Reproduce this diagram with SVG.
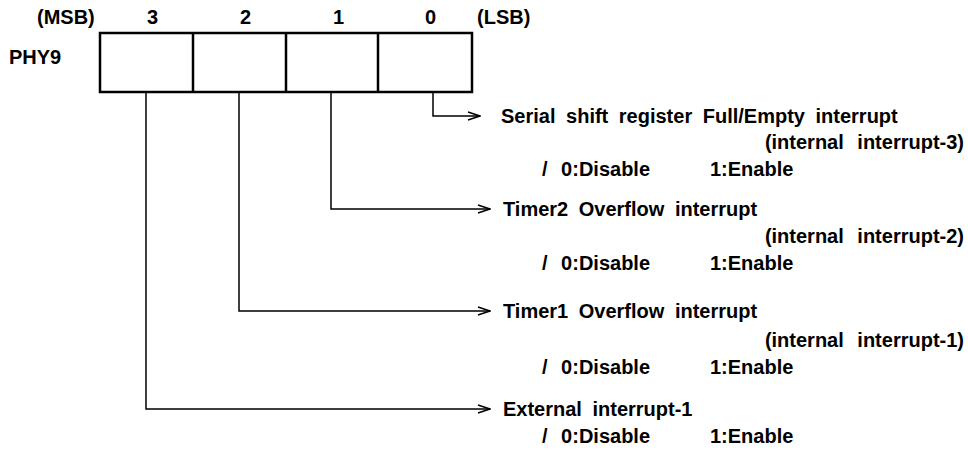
<svg xmlns="http://www.w3.org/2000/svg" width="968" height="454" viewBox="0 0 968 454">
<style>
text{font-family:"Liberation Sans",Arial,sans-serif;font-size:20px;font-weight:bold;fill:#000}
.w{word-spacing:5px}
.i{word-spacing:8px;text-anchor:end}
.d{word-spacing:8px}
.ln{fill:none;stroke:#000;stroke-width:1.5}
.bx{fill:#fff;stroke:#000;stroke-width:2.5}
</style>
<defs>
<marker id="ah" markerWidth="14" markerHeight="10" refX="13" refY="5" orient="auto" markerUnits="userSpaceOnUse">
<path d="M1,1 L13,5 L1,9" fill="none" stroke="#000" stroke-width="1.5"/>
</marker>
</defs>
<rect width="968" height="454" fill="#fff"/>
<g id="header">
<text x="37" y="24">(MSB)</text>
<text x="147" y="24">3</text>
<text x="240" y="24">2</text>
<text x="333" y="24">1</text>
<text x="425" y="24">0</text>
<text x="477" y="24">(LSB)</text>
<text x="9" y="64">PHY9</text>
</g>
<g id="register">
<rect class="bx" x="100" y="33" width="372" height="59"/>
<line class="bx" x1="193" y1="33" x2="193" y2="92"/>
<line class="bx" x1="286" y1="33" x2="286" y2="92"/>
<line class="bx" x1="378" y1="33" x2="378" y2="92"/>
</g>
<g id="connectors">
<path class="ln" d="M433,92 V116 H480" marker-end="url(#ah)"/>
<path class="ln" d="M331,92 V209 H490" marker-end="url(#ah)"/>
<path class="ln" d="M239,92 V311 H490" marker-end="url(#ah)"/>
<path class="ln" d="M146,92 V409 H490" marker-end="url(#ah)"/>
</g>
<g id="bit0">
<text class="w" x="501" y="123">Serial shift register Full/Empty interrupt</text>
<text class="i" x="964" y="149">(internal interrupt-3)</text>
<text class="d" x="542" y="176">/ 0:Disable</text>
<text x="710" y="176">1:Enable</text>
</g>
<g id="bit1">
<text class="w" x="503" y="216">Timer2 Overflow interrupt</text>
<text class="i" x="964" y="243">(internal interrupt-2)</text>
<text class="d" x="542" y="270">/ 0:Disable</text>
<text x="710" y="270">1:Enable</text>
</g>
<g id="bit2">
<text class="w" x="503" y="318">Timer1 Overflow interrupt</text>
<text class="i" x="964" y="347">(internal interrupt-1)</text>
<text class="d" x="542" y="374">/ 0:Disable</text>
<text x="710" y="374">1:Enable</text>
</g>
<g id="bit3">
<text class="w" x="503" y="416">External interrupt-1</text>
<text class="d" x="542" y="443">/ 0:Disable</text>
<text x="710" y="443">1:Enable</text>
</g>
</svg>
